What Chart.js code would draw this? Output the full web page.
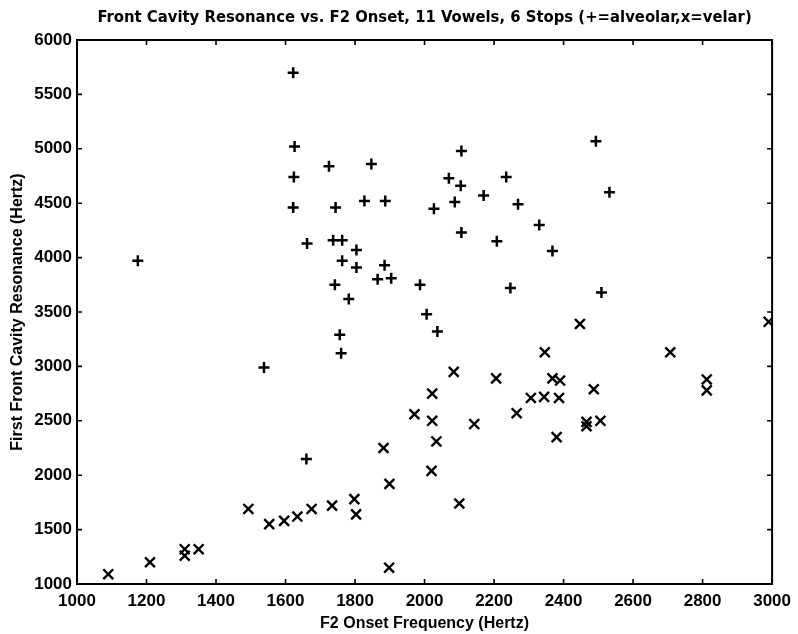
<!DOCTYPE html>
<html>
<head>
<meta charset="utf-8">
<script src="https://cdn.jsdelivr.net/npm/chart.js@4.4.1/dist/chart.umd.min.js"></script>
<style>
  html, body { margin: 0; padding: 0; background: #fff; }
  canvas { display: block; }
</style>
</head>
<body>
<canvas id="c" width="798" height="634"></canvas>
<script>
// ---- data ----
const chartTitle = "Front Cavity Resonance vs. F2 Onset, 11 Vowels, 6 Stops (+=alveolar,x=velar)";
const xTitle = "F2 Onset Frequency (Hertz)";
const yTitle = "First Front Cavity Resonance (Hertz)";

const xMin = 1000, xMax = 3000, xStep = 200;
const yMin = 1000, yMax = 6000, yStep = 500;

// alveolar (+)
const alveolarF2 = [1622, 1626, 1624, 1622, 1662, 1175, 2106, 1725, 1847, 2070, 2104,
  2235, 2170, 1744, 1827, 1887, 2027, 2087, 2269, 2330, 2106, 2208, 2368, 1737, 1763,
  1804, 1763, 1804, 1885, 1742, 1865, 1904, 1987, 2247, 1782, 2493, 2532, 2509, 1756,
  1760, 2006, 2037, 1660, 1538];
const alveolarFCR = [5700, 5020, 4740, 4460, 4130, 3970, 4980, 4840, 4860, 4730, 4660,
  4740, 4570, 4460, 4520, 4520, 4450, 4510, 4490, 4300, 4230, 4150, 4060, 4160, 4160,
  4070, 3970, 3910, 3930, 3750, 3800, 3810, 3750, 3720, 3620, 5070, 4600, 3680, 3290,
  3120, 3480, 3320, 2150, 2990];

// velar (x)
const velarF2 = [1090, 1210, 1310, 1310, 1350, 1493, 1553, 1596, 1634, 1675, 1734, 1798,
  1803, 1898, 1899, 1882, 2020, 2034, 2022, 2022, 1971, 2084, 2100, 2143, 2206, 2265,
  2306, 2344, 2346, 2368, 2390, 2387, 2380, 2447, 2487, 2466, 2466, 2506, 2707, 2812,
  2812, 2990];
const velarFCR = [1090, 1200, 1320, 1260, 1320, 1690, 1550, 1580, 1620, 1690, 1720, 1780,
  1640, 1150, 1920, 2250, 2040, 2310, 2500, 2750, 2560, 2950, 1740, 2470, 2890, 2570,
  2710, 2720, 3130, 2890, 2870, 2710, 2350, 3390, 2790, 2490, 2450, 2500, 3130, 2880,
  2780, 3410];

const toPoints = (xs, ys) => xs.map((x, i) => ({ x: x, y: ys[i] }));

Chart.defaults.font.family = "'Liberation Sans', Arial, sans-serif";
Chart.defaults.color = '#000';

// Draws the box and inward tick marks from the chart's own scales
const frameTicks = {
  id: 'frameTicks',
  afterDraw(chart) {
    const { ctx, chartArea: a, scales: { x, y } } = chart;
    const len = 5;
    ctx.save();
    ctx.strokeStyle = '#000';
    ctx.lineWidth = 1.6;
    ctx.beginPath();
    x.ticks.forEach(t => {
      const px = x.getPixelForValue(t.value);
      ctx.moveTo(px, a.bottom); ctx.lineTo(px, a.bottom - len);
      ctx.moveTo(px, a.top); ctx.lineTo(px, a.top + len);
    });
    y.ticks.forEach(t => {
      const py = y.getPixelForValue(t.value);
      ctx.moveTo(a.left, py); ctx.lineTo(a.left + len, py);
      ctx.moveTo(a.right, py); ctx.lineTo(a.right - len, py);
    });
    ctx.stroke();
    ctx.lineWidth = 2;
    ctx.strokeRect(a.left, a.top, a.right - a.left, a.bottom - a.top);
    ctx.restore();
  }
};

const plain = v => String(v);

new Chart(document.getElementById('c'), {
  type: 'scatter',
  data: {
    datasets: [
      {
        label: 'alveolar',
        data: toPoints(alveolarF2, alveolarFCR),
        pointStyle: 'cross',
        pointRadius: 5.5,
        pointBorderWidth: 2.5,
        borderColor: '#000',
        backgroundColor: '#000'
      },
      {
        label: 'velar',
        data: toPoints(velarF2, velarFCR),
        pointStyle: 'crossRot',
        pointRadius: 7,
        pointBorderWidth: 2.4,
        borderColor: '#000',
        backgroundColor: '#000'
      }
    ]
  },
  options: {
    responsive: false,
    animation: false,
    devicePixelRatio: 1,
    layout: { padding: { left: 0, right: 22, top: 0, bottom: 0 } },
    plugins: {
      legend: { display: false },
      tooltip: { enabled: false },
      title: {
        display: true,
        fullSize: false,
        text: chartTitle,
        color: '#000',
        font: { family: "'DejaVu Sans Condensed', 'Liberation Sans', sans-serif", size: 16.5, weight: 'bold' },
        padding: { top: 8, bottom: 12.2 }
      }
    },
    scales: {
      x: {
        type: 'linear',
        min: xMin, max: xMax,
        grid: { display: false, drawTicks: false },
        border: { display: false },
        ticks: { stepSize: xStep, padding: 7, font: { size: 17, weight: 'bold' }, color: '#000', maxRotation: 0, callback: plain },
        title: { display: true, text: xTitle, color: '#000', font: { size: 16, weight: 'bold' }, padding: { top: 0, bottom: 1 } },
        afterFit(s) { s.height = 50; }
      },
      y: {
        type: 'linear',
        min: yMin, max: yMax,
        grid: { display: false, drawTicks: false },
        border: { display: false },
        ticks: { stepSize: yStep, padding: 5, font: { size: 17, weight: 'bold' }, color: '#000', callback: plain },
        title: { display: true, text: yTitle, color: '#000', font: { size: 16, weight: 'bold' }, padding: { top: 8, bottom: 0 } },
        afterFit(s) { s.width = 77; }
      }
    }
  },
  plugins: [frameTicks]
});
</script>
</body>
</html>
